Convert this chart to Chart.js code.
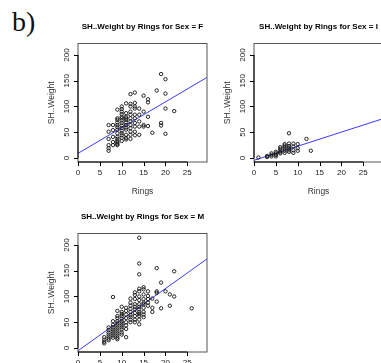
<!DOCTYPE html>
<html>
<head>
<meta charset="utf-8">
<script src="https://cdn.jsdelivr.net/npm/chart.js@4.4.1/dist/chart.umd.min.js"></script>
<style>
  html, body { margin: 0; padding: 0; background: #fff; width: 381px; height: 363px; overflow: hidden; position: relative; }
  canvas { position: absolute; }
  #tag { position: absolute; left: 12px; top: 8px; font: 28px "Liberation Serif", serif; line-height: 28px; color: #111; }
</style>
</head>
<body>
<div id="tag">b)</div>
<canvas id="panelF" width="215" height="200" style="left:0px;top:0px"></canvas>
<canvas id="panelI" width="215" height="200" style="left:176px;top:0px"></canvas>
<canvas id="panelM" width="215" height="200" style="left:0px;top:190px"></canvas>
<script>
// shell weight vs rings, one panel per sex
const xTicks = [0, 5, 10, 15, 20, 25];
const yTicks = [0, 50, 100, 150, 200];
const xRange = [0, 29.5];
const yRange = [-7.8, 222.3];

const ringsF = [7,7,7,7,7,7, 8,8,8,8,8, 9,9,9,9,9,9,9,9,9,9,9,9,9,9,
  10,10,10,10,10,10,10,10,10,10,10,10,10,10,10, 11,11,11,11,11,11,11,11,11,11,11,11,
  12,12,12,12,12,12,12,12,12,12,12,12, 13,13,13,13,13,13,13,13,13,13, 14,14,14,14,14,
  15,15,15,15, 16,16,16,16, 17, 18, 19,19,19, 20,20,20,20, 22];
const weightF = [64,51,37,25,19,14, 64,54,41,31,25, 94,77,74,69,64,60,55,48,41,37,33,30,27,25,
  100,95,90,85,80,77,73,68,63,58,53,48,44,39,33, 106,87,80,77,74,69,64,59,55,45,39,36,
  124,105,100,90,84,77,71,64,58,51,45,37, 127,107,100,96,84,77,68,61,51,44, 96,84,71,61,45,
  121,90,64,61, 114,108,80,62, 49, 131, 163,68,63, 153,125,96,47, 91];

const ringsI = [1, 3,3, 4,4,4, 5,5,5,5, 6,6,6,6,6, 7,7,7,7,7,7, 8,8,8,8,8,8, 9,9,9,9, 10,10,10, 12, 13];
const weightI = [1, 2,4, 6,9,3, 9,12,3,6, 14,18,21,9,11, 27,21,18,14,10,24, 48,28,23,19,12,15, 28,22,15,10, 27,19,14, 37, 14];

const ringsM = [6,6,6,6, 7,7,7,7,7,7,7, 8,8,8,8,8,8,8,8,8, 9,9,9,9,9,9,9,9,9,9,9,9,9,
  10,10,10,10,10,10,10,10,10,10,10,10, 11,11,11,11,11,11,11,11, 12,12,12,12,12,12,12,12,12,
  13,13,13,13,13,13,13,13,13,13, 14,14,14,14,14,14,14,14,14,14,14,14,14,14,14,
  15,15,15,15,15,15,15,15,15,15, 16,16,16,16,16, 17,17,17, 18,18,18,18, 19,19, 20, 21,21, 22,22, 26];
const weightM = [21,16,12,9, 40,35,30,26,22,18,15, 99,52,45,40,36,32,28,24,20, 72,62,58,52,48,44,40,36,32,28,24,20,17,
  80,70,66,62,57,52,48,44,40,36,30,26, 78,72,65,58,50,44,37,21, 96,88,82,76,70,64,60,55,50,
  108,103,95,85,80,75,68,62,55,50, 214,164,143,115,110,100,93,85,80,75,70,66,62,55,46,
  118,114,104,95,88,85,78,70,65,60, 110,101,95,88,82, 96,78,70, 155,110,107,90, 127,77, 110, 104,82, 149,100, 77];

// fitted line: [intercept, slope]
const fitF = [9, 5.0];
const fitI = [-4.5, 2.74];
const fitM = [-5.3, 6.04];

const rFrame = {
  id: 'rFrame',
  afterDraw(chart, args, opts) {
    const ctx = chart.ctx;
    const a = chart.chartArea;
    const x = chart.scales.x, y = chart.scales.y;
    const cx = (a.left + a.right) / 2, cy = (a.top + a.bottom) / 2;
    ctx.save();
    ctx.lineWidth = 1;
    ctx.strokeStyle = '#555';
    ctx.strokeRect(a.left, a.top, a.right - a.left, a.bottom - a.top);

    ctx.strokeStyle = '#000';
    ctx.beginPath();
    const x0 = x.getPixelForValue(xTicks[0]), x1 = x.getPixelForValue(xTicks[xTicks.length - 1]);
    ctx.moveTo(x0, a.bottom); ctx.lineTo(x1, a.bottom);
    xTicks.forEach(t => {
      const px = Math.round(x.getPixelForValue(t)) + 0.5;
      ctx.moveTo(px, a.bottom); ctx.lineTo(px, a.bottom + 4);
    });
    const y0 = y.getPixelForValue(yTicks[0]), y1 = y.getPixelForValue(yTicks[yTicks.length - 1]);
    ctx.moveTo(a.left, y0); ctx.lineTo(a.left, y1);
    yTicks.forEach(t => {
      const py = Math.round(y.getPixelForValue(t)) + 0.5;
      ctx.moveTo(a.left, py); ctx.lineTo(a.left - 4, py);
    });
    ctx.stroke();

    ctx.fillStyle = '#222';
    ctx.textAlign = 'center';
    ctx.textBaseline = 'middle';
    ctx.font = '8px "Liberation Sans", Arial, sans-serif';
    xTicks.forEach(t => ctx.fillText(String(t), x.getPixelForValue(t), a.bottom + 11));
    yTicks.forEach(t => {
      ctx.save();
      ctx.translate(a.left - 11, y.getPixelForValue(t));
      ctx.rotate(-Math.PI / 2);
      ctx.fillText(String(t), 0, 0);
      ctx.restore();
    });

    ctx.fillStyle = '#333';
    ctx.font = '8.5px "Liberation Sans", Arial, sans-serif';
    ctx.fillText(opts.xTitle, cx, a.bottom + 30);
    ctx.save();
    ctx.translate(a.left - 26, cy);
    ctx.rotate(-Math.PI / 2);
    ctx.fillText(opts.yTitle, 0, 0);
    ctx.restore();

    ctx.fillStyle = '#000';
    ctx.font = 'bold 8px "Liberation Sans", Arial, sans-serif';
    ctx.fillText(opts.title, cx, a.top - 17);
    ctx.restore();
  }
};

function makePanel(id, rings, weight, fit, title) {
  const pts = rings.map((r, i) => ({ x: r, y: weight[i] }));
  const linePts = xRange.map(v => ({ x: v, y: fit[0] + fit[1] * v }));
  return new Chart(document.getElementById(id), {
    type: 'scatter',
    data: {
      datasets: [
        {
          data: pts,
          pointStyle: 'circle',
          pointRadius: 1.7,
          pointBorderWidth: 0.9,
          pointBorderColor: '#111',
          pointBackgroundColor: 'rgba(0,0,0,0)'
        },
        {
          type: 'line',
          data: linePts,
          borderColor: '#3b3bff',
          borderWidth: 1,
          pointRadius: 0,
          fill: false
        }
      ]
    },
    options: {
      responsive: false,
      animation: false,
      events: [],
      layout: { padding: { left: 0, top: 43.5, right: 8, bottom: 0 } },
      plugins: {
        legend: { display: false },
        tooltip: { enabled: false },
        rFrame: { title: title, xTitle: 'Rings', yTitle: 'SH..Weight' }
      },
      scales: {
        x: {
          type: 'linear', min: xRange[0], max: xRange[1],
          afterFit(s) { s.height = 38; },
          ticks: { display: false }, grid: { display: false }, border: { display: false }
        },
        y: {
          type: 'linear', min: yRange[0], max: yRange[1],
          afterFit(s) { s.width = 78; },
          ticks: { display: false }, grid: { display: false }, border: { display: false }
        }
      }
    },
    plugins: [rFrame]
  });
}

makePanel('panelF', ringsF, weightF, fitF, 'SH..Weight by Rings for Sex = F');
makePanel('panelI', ringsI, weightI, fitI, 'SH..Weight by Rings for Sex = I');
makePanel('panelM', ringsM, weightM, fitM, 'SH..Weight by Rings for Sex = M');
</script>
</body>
</html>
